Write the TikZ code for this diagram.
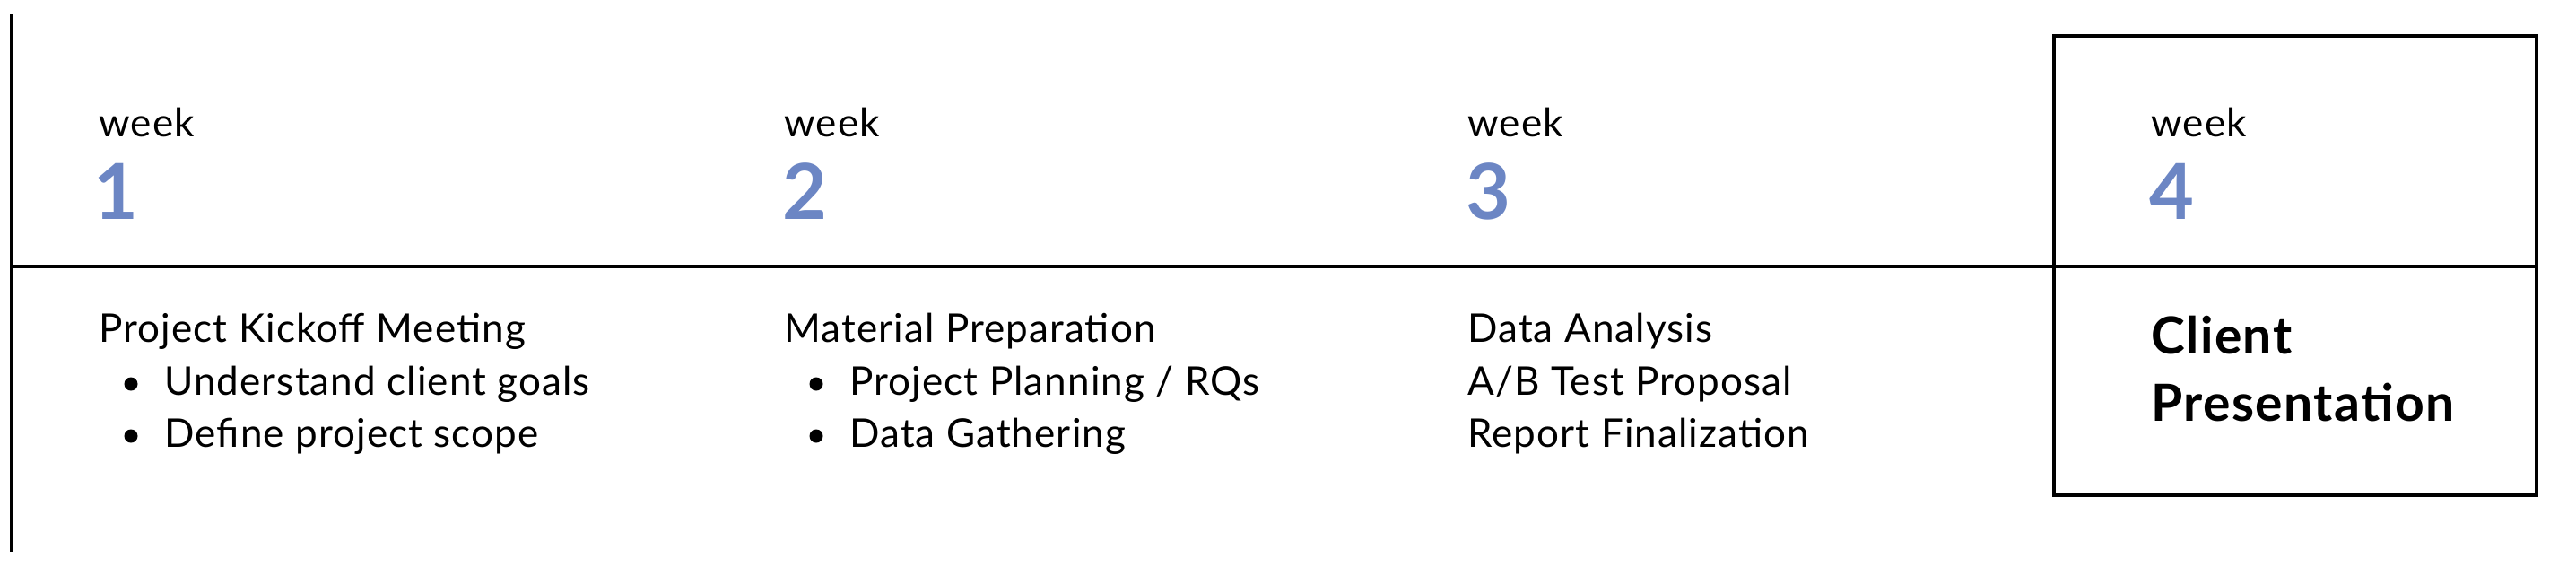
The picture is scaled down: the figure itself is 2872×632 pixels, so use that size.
\documentclass[tikz,border=0pt]{standalone}
\usepackage{fontspec}
\setmainfont{Lato}[LetterSpace=2.5]
\definecolor{weekblue}{RGB}{108,134,196}
\begin{document}
\begin{tikzpicture}[x=0.5pt,y={(0pt,-0.5pt)},
  rule/.style={line width=2pt,black},
  weeklbl/.style={anchor=base west,inner sep=0pt,font=\fontsize{22}{26}\selectfont},
  weeknum/.style={anchor=base west,inner sep=0pt,text=weekblue,font=\fontsize{43}{50}\selectfont\bfseries},
  bodytxt/.style={anchor=base west,inner sep=0pt,font=\fontsize{22}{26}\selectfont},
  bulletdot/.style={circle,fill=black,inner sep=0pt,minimum size=7.5},
  boldtxt/.style={anchor=base west,inner sep=0pt,font=\fontsize{28.5}{32}\selectfont\bfseries}]
\useasboundingbox (0,0) rectangle (2872,632);
% frame lines
\draw[rule] (13,16) -- (13,615);
\draw[rule] (13,297) -- (2828,297);
\draw[rule] (2290,40) rectangle (2828,552);
% week headers
\node[weeklbl] (w1) at (110,152) {week};
\node[weeknum] (n1) at (104,244) {1};
\node[weeklbl] (w2) at (874,152) {week};
\node[weeknum] (n2) at (872,244) {2};
\node[weeklbl] (w3) at (1636,152) {week};
\node[weeknum] (n3) at (1634,244) {3};
\node[weeklbl] (w4) at (2398,152) {week};
\node[weeknum] (n4) at (2396,244) {4};
% week 1
\node[bodytxt] (t1) at (110,381) {Project Kickoff Meeting};
\node[bulletdot] (b11) at (146,428) {};
\node[bodytxt] (i11) at (183,440) {Understand client goals};
\node[bulletdot] (b12) at (146,486) {};
\node[bodytxt] (i12) at (183,498) {Define project scope};
% week 2
\node[bodytxt] (t2) at (874,381) {Material Preparation};
\node[bulletdot] (b21) at (910,428) {};
\node[bodytxt] (i21) at (947,440) {Project Planning / RQs};
\node[bulletdot] (b22) at (910,486) {};
\node[bodytxt] (i22) at (947,498) {Data Gathering};
% week 3
\node[bodytxt] (t3a) at (1636,381) {Data Analysis};
\node[bodytxt] (t3b) at (1636,440) {A/B Test Proposal};
\node[bodytxt] (t3c) at (1636,498) {Report Finalization};
% week 4
\node[boldtxt] (t4a) at (2398,394) {Client};
\node[boldtxt] (t4b) at (2398,469) {Presentation};
\end{tikzpicture}
\end{document}
